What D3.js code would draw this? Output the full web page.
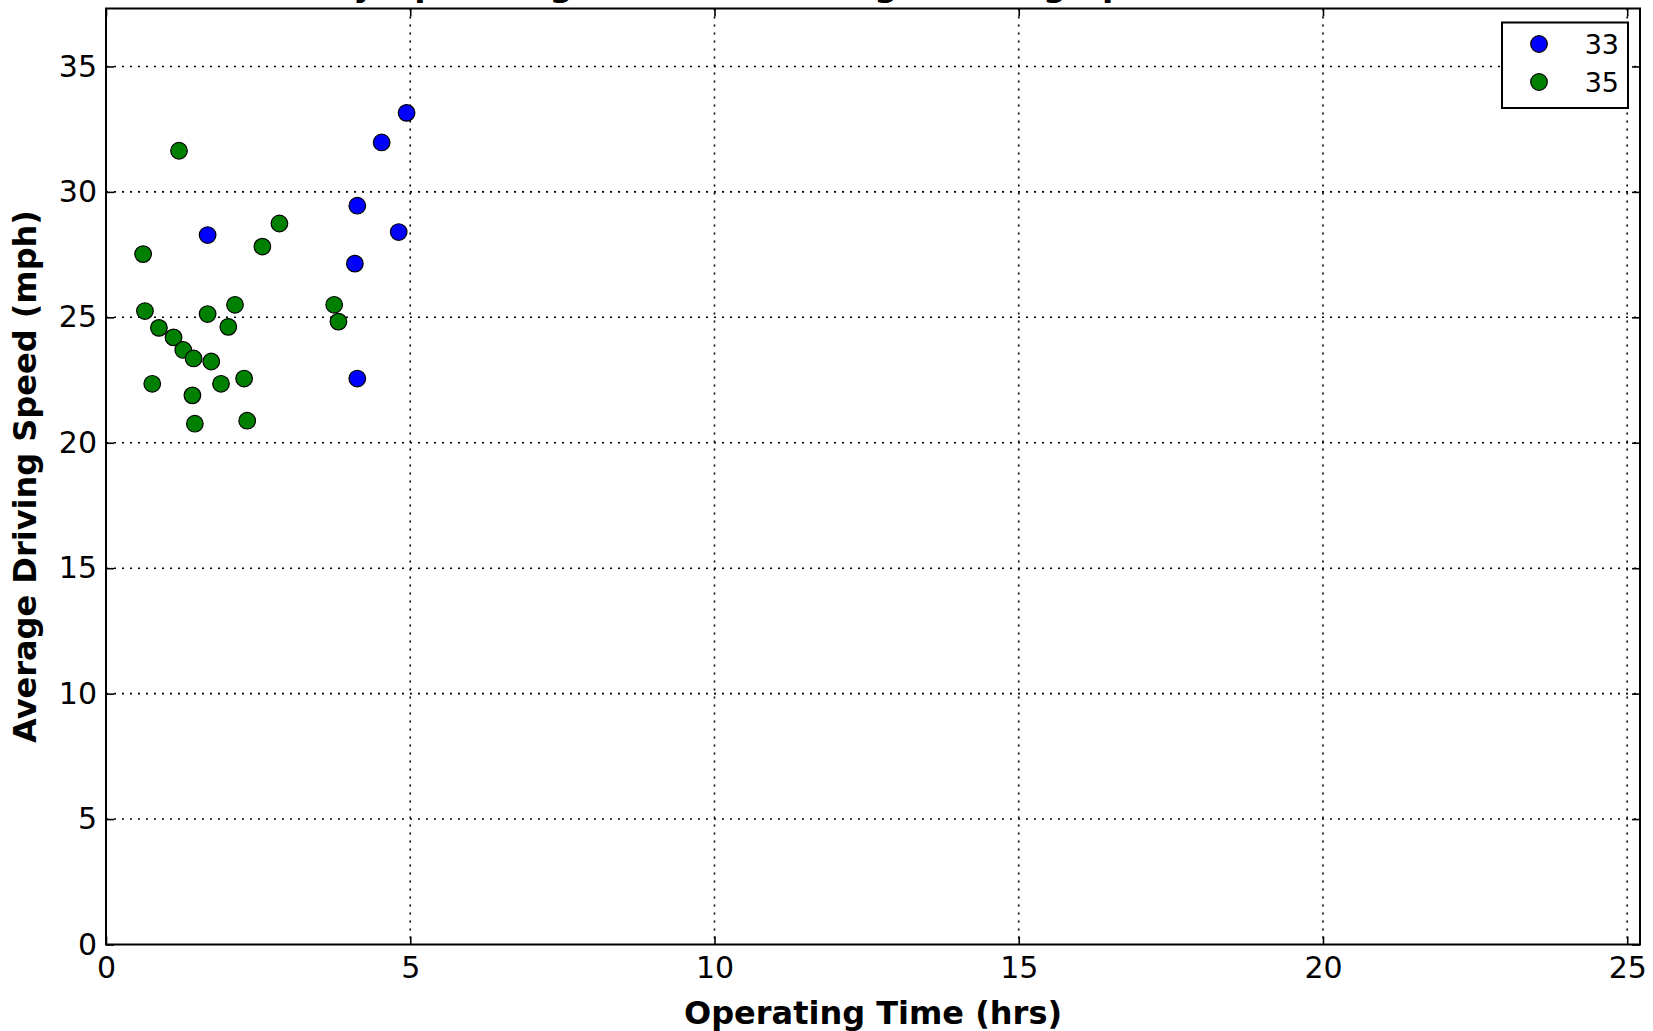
<!DOCTYPE html>
<html>
<head>
<meta charset="utf-8">
<script src="https://cdn.jsdelivr.net/npm/d3@7"></script>
<style>
  html, body { margin: 0; padding: 0; background: #ffffff; }
  svg { display: block; }
  text { font-family: "DejaVu Sans", sans-serif; }
</style>
</head>
<body>
<div id="chart"></div>
<script>
// ---- data ----
const seriesNames = ["33", "35"];
const seriesColors = ["#0000ff", "#008000"];
const hours33 = [4.94, 4.53, 4.13, 4.81, 1.67, 4.09, 4.13];
const speed33 = [33.15, 31.97, 29.45, 28.40, 28.28, 27.14, 22.56];
const hours35 = [1.20, 0.61, 2.85, 2.57, 0.64, 2.12, 1.67, 3.75, 3.82, 0.87, 2.01, 1.11, 1.27, 1.44, 1.73, 0.76, 1.89, 2.27, 1.42, 1.46, 2.32];
const speed35 = [31.64, 27.52, 28.74, 27.82, 25.25, 25.50, 25.13, 25.50, 24.83, 24.58, 24.62, 24.20, 23.70, 23.36, 23.24, 22.35, 22.35, 22.56, 21.89, 20.76, 20.88];
const xTicks = [0, 5, 10, 15, 20, 25];
const yTicks = [0, 5, 10, 15, 20, 25, 30, 35];
const xDomain = [0, 25.21];
const yDomain = [0, 37.31];
const titleText = "Routes by Operating Time and Average Driving Speed";
const xLabel = "Operating Time (hrs)";
const yLabel = "Average Driving Speed (mph)";

// ---- layout ----
const W = 1653, H = 1031;
const plot = { left: 106, right: 1640, top: 8.5, bottom: 944.5 };

const svg = d3.select("#chart").append("svg")
  .attr("width", W).attr("height", H);

const x = d3.scaleLinear().domain(xDomain).range([plot.left, plot.right]);
const y = d3.scaleLinear().domain(yDomain).range([plot.bottom, plot.top]);

// grid
const grid = svg.append("g");
grid.selectAll("line.vx").data(xTicks.filter(t => t > 0)).enter().append("line")
  .attr("x1", d => x(d)).attr("x2", d => x(d))
  .attr("y1", plot.top).attr("y2", plot.bottom)
  .attr("stroke", "#000").attr("stroke-width", 1.6).attr("stroke-dasharray", "2,6");
grid.selectAll("line.hy").data(yTicks.filter(t => t > 0)).enter().append("line")
  .attr("x1", plot.left).attr("x2", plot.right)
  .attr("y1", d => y(d)).attr("y2", d => y(d))
  .attr("stroke", "#000").attr("stroke-width", 1.6).attr("stroke-dasharray", "2,6");

// axes (ticks inward, on all sides)
const tickLen = 8;
const axB = svg.append("g").attr("transform", `translate(0,${plot.bottom})`)
  .call(d3.axisBottom(x).tickValues(xTicks).tickFormat(d3.format("d")).tickSizeInner(-tickLen).tickSizeOuter(0).tickPadding(12));
const axT = svg.append("g").attr("transform", `translate(0,${plot.top})`)
  .call(d3.axisTop(x).tickValues(xTicks).tickFormat("").tickSizeInner(-tickLen).tickSizeOuter(0));
const axL = svg.append("g").attr("transform", `translate(${plot.left},0)`)
  .call(d3.axisLeft(y).tickValues(yTicks).tickFormat(d3.format("d")).tickSizeInner(-tickLen).tickSizeOuter(0).tickPadding(9));
const axR = svg.append("g").attr("transform", `translate(${plot.right},0)`)
  .call(d3.axisRight(y).tickValues(yTicks).tickFormat("").tickSizeInner(-tickLen).tickSizeOuter(0));
[axB, axT, axL, axR].forEach(a => {
  a.select(".domain").remove();
  a.selectAll(".tick line").attr("stroke", "#000").attr("stroke-width", 1.6);
  a.selectAll("text").attr("font-family", "DejaVu Sans, sans-serif").attr("font-size", 30).attr("fill", "#000");
});

// frame
svg.append("rect")
  .attr("x", plot.left).attr("y", plot.top)
  .attr("width", plot.right - plot.left).attr("height", plot.bottom - plot.top)
  .attr("fill", "none").attr("stroke", "#000").attr("stroke-width", 2);

// points
const seriesData = [
  hours33.map((h, i) => ({ h, s: speed33[i] })),
  hours35.map((h, i) => ({ h, s: speed35[i] }))
];
seriesData.forEach((pts, k) => {
  svg.append("g").selectAll("circle").data(pts).enter().append("circle")
    .attr("cx", d => x(d.h)).attr("cy", d => y(d.s)).attr("r", 8.3)
    .attr("fill", seriesColors[k]).attr("stroke", "#000").attr("stroke-width", 1.2);
});

// legend
const lg = svg.append("g");
lg.append("rect").attr("x", 1502).attr("y", 22.5).attr("width", 126).attr("height", 85.5)
  .attr("fill", "#fff").attr("stroke", "#000").attr("stroke-width", 2);
seriesNames.forEach((name, i) => {
  const cy = 44 + i * 38;
  lg.append("circle").attr("cx", 1539).attr("cy", cy).attr("r", 8.3)
    .attr("fill", seriesColors[i]).attr("stroke", "#000").attr("stroke-width", 1.2);
  lg.append("text").attr("x", 1619).attr("y", cy + 10).attr("text-anchor", "end")
    .attr("font-size", 27).attr("fill", "#000").text(name);
});

// labels
svg.append("text").attr("x", (plot.left + plot.right) / 2).attr("y", 1024)
  .attr("text-anchor", "middle").attr("font-weight", "bold").attr("font-size", 32)
  .attr("fill", "#000").text(xLabel);
svg.append("text").attr("transform", `translate(36,${(plot.top + plot.bottom) / 2}) rotate(-90)`)
  .attr("text-anchor", "middle").attr("font-weight", "bold").attr("font-size", 32)
  .attr("fill", "#000").text(yLabel);

// title: largely above the canvas in the reference, only its descenders show
const title = svg.append("text").attr("x", 0).attr("y", -3.8)
  .attr("text-anchor", "start").attr("font-weight", "bold").attr("font-size", 33)
  .attr("fill", "#000").text(titleText);
const yIdx = titleText.indexOf("by") + 1;
const node = title.node();
const before = node.getSubStringLength(0, yIdx);
const yW = node.getSubStringLength(yIdx, 1);
title.attr("x", 364 - before - yW / 2);
</script>
</body>
</html>
